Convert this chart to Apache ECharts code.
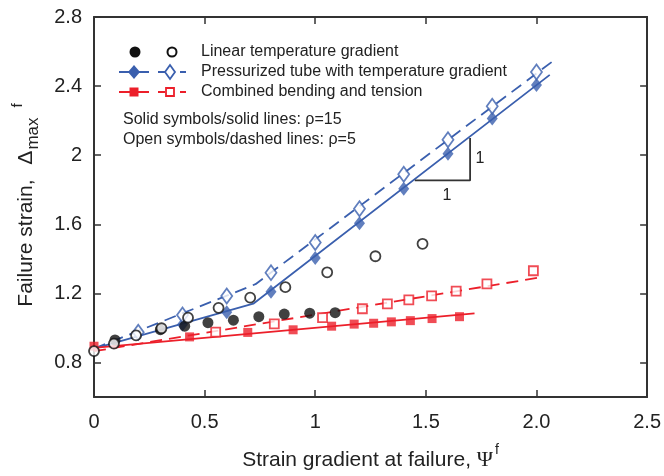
<!DOCTYPE html>
<html>
<head>
<meta charset="utf-8">
<script src="https://cdn.jsdelivr.net/npm/echarts@6/dist/echarts.min.js"></script>
<style>html,body{margin:0;padding:0;background:#fff;}#c{width:664px;height:476px;}</style>
</head>
<body>
<div id="c"></div>
<script>
// ---- data ----
var xTickValues = [0, 0.5, 1, 1.5, 2, 2.5];
var xTickLabels = ['0', '0.5', '1', '1.5', '2.0', '2.5'];
var yTickValues = [0.8, 1.2, 1.6, 2.0, 2.4, 2.8];
var yTickLabels = ['0.8', '1.2', '1.6', '2', '2.4', '2.8'];

// Linear temperature gradient
var linearRho15 = [[0.095,0.93],[0.30,0.99],[0.41,1.01],[0.515,1.03],[0.63,1.045],[0.745,1.065],[0.86,1.08],[0.975,1.085],[1.09,1.088]];
var linearRho5 = [[0,0.866],[0.09,0.909],[0.19,0.957],[0.305,0.998],[0.425,1.059],[0.563,1.116],[0.706,1.175],[0.865,1.236],[1.054,1.322],[1.272,1.415],[1.485,1.487]];
// Pressurized tube with temperature gradient
var tubeRho15 = [[0.4,1.02],[0.6,1.09],[0.8,1.21],[1.0,1.405],[1.2,1.606],[1.4,1.806],[1.6,2.008],[1.8,2.212],[2.0,2.406]];
var tubeRho5 = [[0.2,0.975],[0.4,1.075],[0.6,1.185],[0.8,1.32],[1.0,1.494],[1.2,1.69],[1.4,1.89],[1.6,2.089],[1.8,2.283],[2.0,2.482]];
var tubeFit15 = [[0,0.88],[0.72,1.14],[2.06,2.465]];
var tubeFit5 = [[0,0.88],[0.73,1.253],[2.08,2.55]];
// Combined bending and tension
var bendRho15 = [[0,0.894],[0.432,0.948],[0.695,0.974],[0.9,0.989],[1.074,1.01],[1.176,1.022],[1.264,1.027],[1.344,1.035],[1.43,1.042],[1.528,1.054],[1.652,1.065]];
var bendRho5 = [[0.55,0.976],[0.815,1.023],[1.033,1.06],[1.213,1.111],[1.326,1.139],[1.423,1.162],[1.526,1.185],[1.637,1.213],[1.776,1.255],[1.986,1.331]];
var bendFit15 = [[0,0.885],[1.72,1.084]];
var bendFit5 = [[0,0.865],[2.02,1.293]];
// slope triangle
var slopeTriangle = [[1.45,1.854],[1.7,1.854],[1.7,2.10]];

var legendNames = ['Linear temperature gradient', 'Pressurized tube with temperature gradient', 'Combined bending and tension'];
var noteLines = ['Solid symbols/solid lines: \u03c1=15', 'Open symbols/dashed lines: \u03c1=5'];

var BLUE = '#3a5fae', RED = '#ec1f2a', BLACK = '#111', AX = '#333';
var FONT = 'Liberation Sans, Arial, Helvetica, sans-serif';

var chart = echarts.init(document.getElementById('c'), null, {renderer: 'canvas'});

function axisCommon() {
  return {
    axisLine: {show: true, onZero: false, lineStyle: {color: AX, width: 2}},
    axisTick: {show: true, inside: true, length: 7, lineStyle: {color: AX, width: 1.5}},
    splitLine: {show: false}
  };
}

var xBase = {type: 'value', min: 0, max: 2.5, interval: 0.5};
var yBase = {type: 'value', min: 0.6, max: 2.8, interval: 0.2};

function lineSeries(data, color, dashed) {
  return {type: 'line', data: data, symbol: 'none', showSymbol: false, silent: true, z: 2,
    lineStyle: {color: color, width: 1.8, type: dashed ? [12, 7] : 'solid'}};
}
function scatter(data, symbol, size, color, open, z) {
  return {type: 'scatter', data: data, symbol: symbol, symbolSize: size, z: z,
    itemStyle: open ? {color: '#fff', borderColor: color, borderWidth: 1.8} : {color: color, borderWidth: 0}};
}

var option = {
  animation: false,
  backgroundColor: '#fff',
  textStyle: {fontFamily: FONT},
  grid: {left: 94, right: 15, top: 17, bottom: 73},
  xAxis: [
    Object.assign({}, xBase, axisCommon(), {
      position: 'bottom',
      axisLabel: {show: true, fontSize: 20, color: '#222', margin: 15, fontFamily: FONT,
        formatter: function (v) { var i = xTickValues.findIndex(function (t) { return Math.abs(t - v) < 1e-9; }); return i >= 0 ? xTickLabels[i] : ''; }},
      name: '{a|Strain gradient at failure, }{p|\u03a8}{s|f}',
      nameLocation: 'middle', nameGap: 46,
      nameTextStyle: {rich: {
        a: {fontSize: 21, color: '#222', fontFamily: FONT, lineHeight: 28, verticalAlign: 'bottom'},
        p: {fontSize: 22, color: '#222', fontFamily: 'Liberation Serif, Times New Roman, serif', lineHeight: 28, verticalAlign: 'bottom'},
        s: {fontSize: 14, color: '#222', fontFamily: FONT, lineHeight: 28, verticalAlign: 'top', padding: [0, 0, 0, 2]}
      }}
    }),
    Object.assign({}, xBase, axisCommon(), {position: 'top', axisLabel: {show: false}})
  ],
  yAxis: [
    Object.assign({}, yBase, axisCommon(), {
      position: 'left',
      axisTick: {show: true, inside: true, length: 7, lineStyle: {color: AX, width: 1.5}, customValues: yTickValues},
      axisLabel: {show: true, fontSize: 20, color: '#222', margin: 12, fontFamily: FONT, customValues: yTickValues,
        formatter: function (v) { var i = yTickValues.findIndex(function (t) { return Math.abs(t - v) < 1e-9; }); return i >= 0 ? yTickLabels[i] : ''; }},
      name: '{a|Failure strain, }{d|\u0394}{b|max}{s|f}',
      nameLocation: 'middle', nameGap: 52, nameRotate: 90,
      nameTextStyle: {padding: [0, 0, 0, 4], rich: {
        a: {fontSize: 21, color: '#222', fontFamily: FONT, lineHeight: 32, verticalAlign: 'middle'},
        d: {fontSize: 21, color: '#222', fontFamily: FONT, lineHeight: 32, verticalAlign: 'middle', padding: [0, 0, 0, 9]},
        b: {fontSize: 17, color: '#222', fontFamily: FONT, lineHeight: 32, verticalAlign: 'bottom', padding: [8, 0, 0, 1]},
        s: {fontSize: 15, color: '#222', fontFamily: FONT, lineHeight: 32, verticalAlign: 'top', padding: [0, 0, 0, 10]}
      }}
    }),
    Object.assign({}, yBase, axisCommon(), {
      position: 'right',
      axisTick: {show: true, inside: true, length: 7, lineStyle: {color: AX, width: 1.5}, customValues: yTickValues},
      axisLabel: {show: false}
    })
  ],
  series: [
    lineSeries(tubeFit15, BLUE, false),
    lineSeries(tubeFit5, BLUE, true),
    lineSeries(bendFit15, RED, false),
    lineSeries(bendFit5, RED, true),
    {type: 'line', data: slopeTriangle, symbol: 'none', silent: true, z: 2, lineStyle: {color: AX, width: 1.8}},
    scatter(bendRho15, 'rect', 9, RED, false, 3),
    scatter(bendRho5, 'rect', 9, RED, true, 4),
    scatter(tubeRho15, 'diamond', [11, 14], BLUE, false, 3),
    scatter(tubeRho5, 'diamond', [11, 15], BLUE, true, 4),
    scatter(linearRho15, 'circle', 11, BLACK, false, 5),
    scatter(linearRho5, 'circle', 10, BLACK, true, 6)
  ],
  graphic: [
    // row 1
    {type: 'circle', shape: {cx: 135, cy: 52, r: 5.5}, style: {fill: BLACK}},
    {type: 'circle', shape: {cx: 172, cy: 52, r: 4.5}, style: {fill: '#fff', stroke: BLACK, lineWidth: 2}},
    {type: 'text', x: 201, y: 52, style: {text: legendNames[0], font: '16px ' + FONT, fill: '#222', verticalAlign: 'middle'}},
    // row 2
    {type: 'line', shape: {x1: 119, y1: 72, x2: 149, y2: 72}, style: {stroke: BLUE, lineWidth: 2}},
    {type: 'polygon', shape: {points: [[134, 65], [140, 72], [134, 79], [128, 72]]}, style: {fill: BLUE}},
    {type: 'line', shape: {x1: 158, y1: 72, x2: 165, y2: 72}, style: {stroke: BLUE, lineWidth: 2}},
    {type: 'line', shape: {x1: 180, y1: 72, x2: 186, y2: 72}, style: {stroke: BLUE, lineWidth: 2}},
    {type: 'polygon', shape: {points: [[170, 65], [175, 72], [170, 79], [165, 72]]}, style: {fill: '#fff', stroke: BLUE, lineWidth: 1.8}},
    {type: 'text', x: 201, y: 72, style: {text: legendNames[1], font: '16px ' + FONT, fill: '#222', verticalAlign: 'middle'}},
    // row 3
    {type: 'line', shape: {x1: 119, y1: 92, x2: 149, y2: 92}, style: {stroke: RED, lineWidth: 2}},
    {type: 'rect', shape: {x: 129.5, y: 87.5, width: 9, height: 9}, style: {fill: RED}},
    {type: 'line', shape: {x1: 158, y1: 92, x2: 165, y2: 92}, style: {stroke: RED, lineWidth: 2}},
    {type: 'line', shape: {x1: 180, y1: 92, x2: 186, y2: 92}, style: {stroke: RED, lineWidth: 2}},
    {type: 'rect', shape: {x: 166, y: 88, width: 8, height: 8}, style: {fill: '#fff', stroke: RED, lineWidth: 1.8}},
    {type: 'text', x: 201, y: 92, style: {text: legendNames[2], font: '16px ' + FONT, fill: '#222', verticalAlign: 'middle'}},
    // notes
    {type: 'text', x: 123, y: 120, style: {text: noteLines[0], font: '16px ' + FONT, fill: '#222', verticalAlign: 'middle'}},
    {type: 'text', x: 123, y: 140, style: {text: noteLines[1], font: '16px ' + FONT, fill: '#222', verticalAlign: 'middle'}},
    // slope triangle labels
    {type: 'text', x: 480, y: 159, style: {text: '1', font: '16px ' + FONT, fill: '#222', verticalAlign: 'middle', align: 'center'}},
    {type: 'text', x: 447, y: 196, style: {text: '1', font: '16px ' + FONT, fill: '#222', verticalAlign: 'middle', align: 'center'}}
  ]
};
chart.setOption(option);
</script>
</body>
</html>
